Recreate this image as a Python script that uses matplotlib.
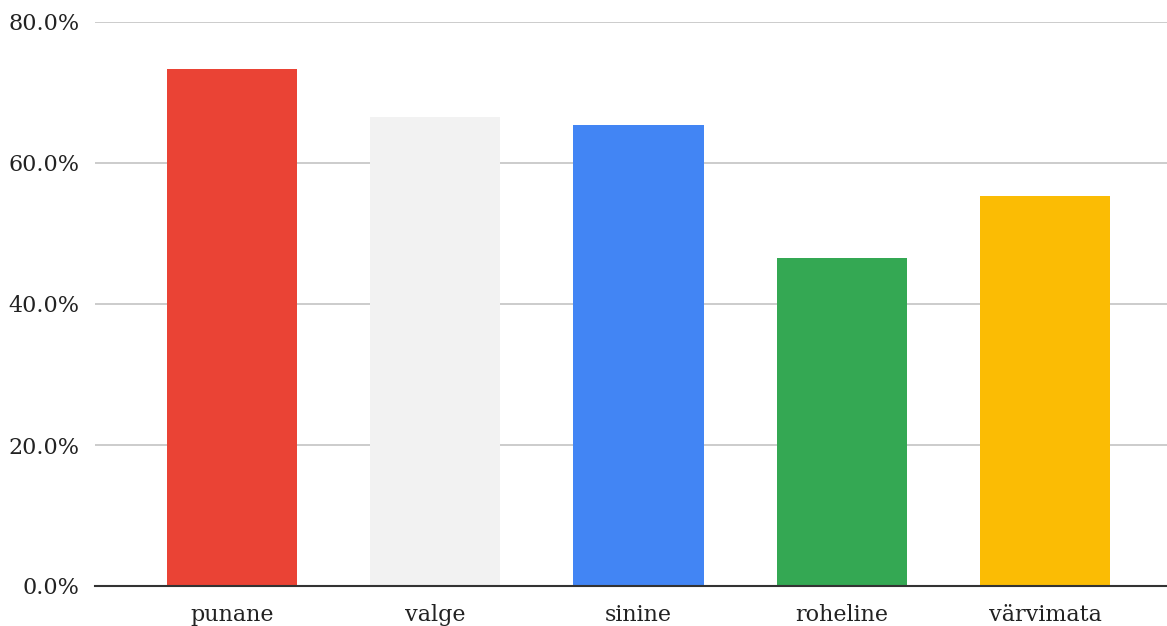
import numpy as np
import matplotlib.pyplot as plt
from matplotlib.ticker import FuncFormatter

# ----------------------
# Data
# ----------------------
categories = ['punane', 'valge', 'sinine', 'roheline', 'värvimata']
shares = [73.3, 66.5, 65.4, 46.5, 55.3]
bar_colors = ['#EA4335', '#F2F2F2', '#4285F4', '#34A853', '#FBBC04']
y_ticks = [0, 20, 40, 60, 80]

# ----------------------
# Plotting
# ----------------------
plt.rcParams['font.family'] = ['DejaVu Serif']

fig = plt.figure(figsize=(11.67, 6.26), dpi=100)
ax = fig.add_axes([95 / 1167, 40 / 626, 1 - 95 / 1167, 564 / 626])

x = np.arange(len(categories))
ax.bar(x, shares, width=0.64, color=bar_colors, zorder=3)

ax.set_xlim(-0.674, 4.60)
ax.set_ylim(0, 80)
ax.set_yticks(y_ticks)
ax.yaxis.set_major_formatter(FuncFormatter(lambda v, _: f'{v:.1f}%'))
ax.set_xticks(x)
ax.set_xticklabels(categories)

ax.grid(axis='y', color='#CCCCCC', linewidth=1.4, zorder=0)
for side in ['top', 'right', 'left']:
    ax.spines[side].set_visible(False)
ax.spines['bottom'].set_color('#333333')
ax.spines['bottom'].set_linewidth(1.5)
ax.spines['bottom'].set_zorder(4)

ax.tick_params(axis='both', length=0, labelsize=16, colors='#222222')
ax.tick_params(axis='x', pad=13)
ax.tick_params(axis='y', pad=11)

fig.savefig('out.png', dpi=100)
